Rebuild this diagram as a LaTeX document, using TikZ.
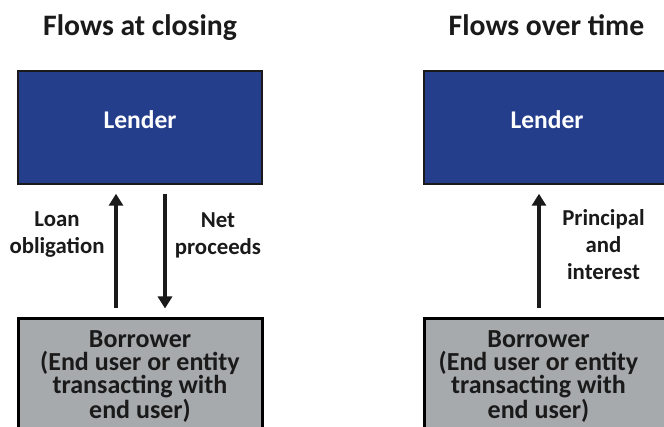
\documentclass[tikz,border=0pt]{standalone}
\usepackage{fontspec}
\setmainfont{Carlito}
\usetikzlibrary{arrows.meta}
\definecolor{lenderblue}{HTML}{253E8B}
\definecolor{borrowgray}{HTML}{A7AAAD}
\definecolor{inkblack}{HTML}{1A1A1A}
\tikzset{
  titletext/.style={font=\fontsize{29.7}{34}\selectfont\bfseries, text=inkblack, anchor=base, inner sep=0pt},
  lenderbox/.style={draw=inkblack, line width=1.5pt, fill=lenderblue, minimum width=244pt, minimum height=113pt, inner sep=0pt},
  lendertext/.style={font=\fontsize{25.5}{30}\selectfont\bfseries, text=white, anchor=base, inner sep=0pt},
  borrowbox/.style={draw=black, line width=3pt, fill=borrowgray, minimum width=244pt, minimum height=113pt, inner sep=0pt},
  borrowtext/.style={font=\fontsize{26}{22.9}\selectfont\bfseries, text=inkblack, align=center, inner sep=0pt},
  flowlabel/.style={font=\fontsize{22.8}{27}\selectfont\bfseries, text=inkblack, align=center, inner sep=0pt},
  flow/.style={draw=inkblack, line width=4pt, -{Triangle[width=14pt,length=12pt]}, shorten <=9pt, shorten >=9pt},
}
\begin{document}
\begin{tikzpicture}[x=1pt,y=-1pt]
\clip (0,0) rectangle (664,427);
\fill[white] (0,0) rectangle (664,427);
% titles
\node[titletext] (t1) at (140,35.5) {Flows at closing};
\node[titletext] (t2) at (546.5,35.5) {Flows over time};
% boxes
\node[lenderbox] (lender1) at (140,127.5) {};
\node[lendertext] (lt1) at (140,128.7) {Lender};
\node[lenderbox] (lender2) at (546,127.5) {};
\node[lendertext] (lt2) at (547,128.7) {Lender};
\node[borrowbox] (borrower1) at (140,375.5) {};
\node[borrowtext] (bt1) at (140,376.5) {Borrower\\(End user or entity\\transacting with\\end user)};
\node[borrowbox] (borrower2) at (546,375.5) {};
\node[borrowtext] (bt2) at (538.5,376.5) {Borrower\\(End user or entity\\transacting with\\end user)};
% arrow x positions
\coordinate (a1) at (116,250);
\coordinate (a2) at (165,250);
\coordinate (a3) at (539,250);
\draw[flow] (borrower1.north -| a1) -- (lender1.south -| a1);
\draw[flow] (lender1.south -| a2) -- (borrower1.north -| a2);
\draw[flow] (borrower2.north -| a3) -- (lender2.south -| a3);
% labels
\node[flowlabel] (l1) at (57,235) {Loan\\obligation};
\node[flowlabel] (l2) at (218,235) {Net\\proceeds};
\node[flowlabel] (l3) at (603.5,245) {Principal\\and\\interest};
\end{tikzpicture}
\end{document}
